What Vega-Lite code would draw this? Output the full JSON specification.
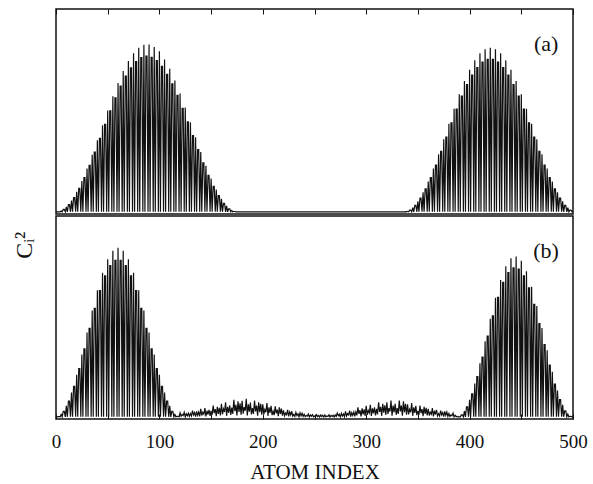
{
"$schema": "https://vega.github.io/schema/vega-lite/v6.json",
"background": "white",
"padding": {"left": 12, "top": 7, "right": 10, "bottom": 2},
"title": {"text": "Cᵢ²", "orient": "left", "anchor": "middle", "font": "Liberation Serif", "fontSize": 24, "fontWeight": "normal", "offset": 14, "color": "#111"},
"config": {"view": {"stroke": "#111", "strokeWidth": 1.5}, "font": "Liberation Serif", "concat": {"spacing": 0}},
"datasets": {
"a": [
{"i":0,"v":0.3},{"i":1,"v":0.3},{"i":2,"v":0.3},{"i":3,"v":0.3},{"i":4,"v":0.3},
{"i":5,"v":0.8},{"i":6,"v":0.3},{"i":7,"v":1.7},{"i":8,"v":1.7},{"i":9,"v":0.3},
{"i":10,"v":3.2},{"i":11,"v":0.3},{"i":12,"v":4.6},{"i":13,"v":4.6},{"i":14,"v":0.3},
{"i":15,"v":7.0},{"i":16,"v":0.3},{"i":17,"v":8.7},{"i":18,"v":8.7},{"i":19,"v":0.3},
{"i":20,"v":12.2},{"i":21,"v":0.3},{"i":22,"v":14.2},{"i":23,"v":14.2},{"i":24,"v":0.3},
{"i":25,"v":18.6},{"i":26,"v":0.3},{"i":27,"v":20.6},{"i":28,"v":20.6},{"i":29,"v":0.3},
{"i":30,"v":26.1},{"i":31,"v":0.3},{"i":32,"v":28.0},{"i":33,"v":28.0},{"i":34,"v":0.3},
{"i":35,"v":34.2},{"i":36,"v":0.3},{"i":37,"v":35.8},{"i":38,"v":35.8},{"i":39,"v":0.3},
{"i":40,"v":42.9},{"i":41,"v":0.3},{"i":42,"v":44.0},{"i":43,"v":44.0},{"i":44,"v":0.3},
{"i":45,"v":51.8},{"i":46,"v":0.3},{"i":47,"v":52.3},{"i":48,"v":52.3},{"i":49,"v":0.3},
{"i":50,"v":60.6},{"i":51,"v":0.3},{"i":52,"v":60.4},{"i":53,"v":60.4},{"i":54,"v":0.3},
{"i":55,"v":69.1},{"i":56,"v":0.3},{"i":57,"v":68.1},{"i":58,"v":68.1},{"i":59,"v":0.3},
{"i":60,"v":77.0},{"i":61,"v":0.3},{"i":62,"v":75.1},{"i":63,"v":75.1},{"i":64,"v":0.3},
{"i":65,"v":84.1},{"i":66,"v":0.3},{"i":67,"v":81.1},{"i":68,"v":81.1},{"i":69,"v":0.3},
{"i":70,"v":90.0},{"i":71,"v":0.3},{"i":72,"v":86.0},{"i":73,"v":86.0},{"i":74,"v":0.3},
{"i":75,"v":94.7},{"i":76,"v":0.3},{"i":77,"v":89.7},{"i":78,"v":89.7},{"i":79,"v":0.3},
{"i":80,"v":98.0},{"i":81,"v":0.3},{"i":82,"v":92.1},{"i":83,"v":92.1},{"i":84,"v":0.3},
{"i":85,"v":99.7},{"i":86,"v":0.3},{"i":87,"v":93.0},{"i":88,"v":93.0},{"i":89,"v":0.3},
{"i":90,"v":99.9},{"i":91,"v":0.3},{"i":92,"v":92.3},{"i":93,"v":92.3},{"i":94,"v":0.3},
{"i":95,"v":98.4},{"i":96,"v":0.3},{"i":97,"v":90.3},{"i":98,"v":90.3},{"i":99,"v":0.3},
{"i":100,"v":95.8},{"i":101,"v":0.3},{"i":102,"v":86.9},{"i":103,"v":86.9},{"i":104,"v":0.3},
{"i":105,"v":91.0},{"i":106,"v":0.3},{"i":107,"v":82.1},{"i":108,"v":82.1},{"i":109,"v":0.3},
{"i":110,"v":85.4},{"i":111,"v":0.3},{"i":112,"v":76.4},{"i":113,"v":76.4},{"i":114,"v":0.3},
{"i":115,"v":78.5},{"i":116,"v":0.3},{"i":117,"v":69.6},{"i":118,"v":69.6},{"i":119,"v":0.3},
{"i":120,"v":70.7},{"i":121,"v":0.3},{"i":122,"v":61.9},{"i":123,"v":61.9},{"i":124,"v":0.3},
{"i":125,"v":62.4},{"i":126,"v":0.3},{"i":127,"v":53.9},{"i":128,"v":53.9},{"i":129,"v":0.3},
{"i":130,"v":53.6},{"i":131,"v":0.3},{"i":132,"v":45.7},{"i":133,"v":45.7},{"i":134,"v":0.3},
{"i":135,"v":44.6},{"i":136,"v":0.3},{"i":137,"v":37.4},{"i":138,"v":37.4},{"i":139,"v":0.3},
{"i":140,"v":35.9},{"i":141,"v":0.3},{"i":142,"v":29.5},{"i":143,"v":29.5},{"i":144,"v":0.3},
{"i":145,"v":27.7},{"i":146,"v":0.3},{"i":147,"v":22.0},{"i":148,"v":22.0},{"i":149,"v":0.3},
{"i":150,"v":20.1},{"i":151,"v":0.3},{"i":152,"v":15.5},{"i":153,"v":15.5},{"i":154,"v":0.3},
{"i":155,"v":13.5},{"i":156,"v":0.3},{"i":157,"v":9.9},{"i":158,"v":9.9},{"i":159,"v":0.3},
{"i":160,"v":8.1},{"i":161,"v":0.3},{"i":162,"v":5.4},{"i":163,"v":5.4},{"i":164,"v":0.3},
{"i":165,"v":3.9},{"i":166,"v":0.3},{"i":167,"v":2.1},{"i":168,"v":2.1},{"i":169,"v":0.3},
{"i":170,"v":1.1},{"i":171,"v":0.3},{"i":172,"v":0.5},{"i":173,"v":0.5},{"i":174,"v":0.3},
{"i":175,"v":0.3},{"i":200,"v":0.3},{"i":250,"v":0.3},{"i":300,"v":0.3},{"i":335,"v":0.3},{"i":336,"v":0.3},{"i":337,"v":0.3},{"i":338,"v":0.4},{"i":339,"v":0.3},
{"i":340,"v":0.6},{"i":341,"v":0.3},{"i":342,"v":1.3},{"i":343,"v":1.3},{"i":344,"v":0.3},
{"i":345,"v":2.8},{"i":346,"v":0.3},{"i":347,"v":4.1},{"i":348,"v":4.1},{"i":349,"v":0.3},
{"i":350,"v":6.6},{"i":351,"v":0.3},{"i":352,"v":8.4},{"i":353,"v":8.4},{"i":354,"v":0.3},
{"i":355,"v":11.9},{"i":356,"v":0.3},{"i":357,"v":14.0},{"i":358,"v":14.0},{"i":359,"v":0.3},
{"i":360,"v":18.4},{"i":361,"v":0.3},{"i":362,"v":20.6},{"i":363,"v":20.6},{"i":364,"v":0.3},
{"i":365,"v":26.1},{"i":366,"v":0.3},{"i":367,"v":28.1},{"i":368,"v":28.1},{"i":369,"v":0.3},
{"i":370,"v":34.6},{"i":371,"v":0.3},{"i":372,"v":36.3},{"i":373,"v":36.3},{"i":374,"v":0.3},
{"i":375,"v":43.5},{"i":376,"v":0.3},{"i":377,"v":44.7},{"i":378,"v":44.7},{"i":379,"v":0.3},
{"i":380,"v":52.7},{"i":381,"v":0.3},{"i":382,"v":53.2},{"i":383,"v":53.2},{"i":384,"v":0.3},
{"i":385,"v":61.7},{"i":386,"v":0.3},{"i":387,"v":61.4},{"i":388,"v":61.4},{"i":389,"v":0.3},
{"i":390,"v":70.3},{"i":391,"v":0.3},{"i":392,"v":69.1},{"i":393,"v":69.1},{"i":394,"v":0.3},
{"i":395,"v":78.1},{"i":396,"v":0.3},{"i":397,"v":76.0},{"i":398,"v":76.0},{"i":399,"v":0.3},
{"i":400,"v":84.9},{"i":401,"v":0.3},{"i":402,"v":81.7},{"i":403,"v":81.7},{"i":404,"v":0.3},
{"i":405,"v":90.5},{"i":406,"v":0.3},{"i":407,"v":86.2},{"i":408,"v":86.2},{"i":409,"v":0.3},
{"i":410,"v":94.6},{"i":411,"v":0.3},{"i":412,"v":89.4},{"i":413,"v":89.4},{"i":414,"v":0.3},
{"i":415,"v":97.1},{"i":416,"v":0.3},{"i":417,"v":91.0},{"i":418,"v":91.0},{"i":419,"v":0.3},
{"i":420,"v":98.0},{"i":421,"v":0.3},{"i":422,"v":91.0},{"i":423,"v":91.0},{"i":424,"v":0.3},
{"i":425,"v":97.1},{"i":426,"v":0.3},{"i":427,"v":89.4},{"i":428,"v":89.4},{"i":429,"v":0.3},
{"i":430,"v":94.6},{"i":431,"v":0.3},{"i":432,"v":86.2},{"i":433,"v":86.2},{"i":434,"v":0.3},
{"i":435,"v":90.5},{"i":436,"v":0.3},{"i":437,"v":81.7},{"i":438,"v":81.7},{"i":439,"v":0.3},
{"i":440,"v":84.9},{"i":441,"v":0.3},{"i":442,"v":76.0},{"i":443,"v":76.0},{"i":444,"v":0.3},
{"i":445,"v":78.1},{"i":446,"v":0.3},{"i":447,"v":69.1},{"i":448,"v":69.1},{"i":449,"v":0.3},
{"i":450,"v":70.3},{"i":451,"v":0.3},{"i":452,"v":61.4},{"i":453,"v":61.4},{"i":454,"v":0.3},
{"i":455,"v":61.7},{"i":456,"v":0.3},{"i":457,"v":53.2},{"i":458,"v":53.2},{"i":459,"v":0.3},
{"i":460,"v":52.7},{"i":461,"v":0.3},{"i":462,"v":44.7},{"i":463,"v":44.7},{"i":464,"v":0.3},
{"i":465,"v":43.5},{"i":466,"v":0.3},{"i":467,"v":36.3},{"i":468,"v":36.3},{"i":469,"v":0.3},
{"i":470,"v":34.6},{"i":471,"v":0.3},{"i":472,"v":28.1},{"i":473,"v":28.1},{"i":474,"v":0.3},
{"i":475,"v":26.1},{"i":476,"v":0.3},{"i":477,"v":20.6},{"i":478,"v":20.6},{"i":479,"v":0.3},
{"i":480,"v":18.4},{"i":481,"v":0.3},{"i":482,"v":14.0},{"i":483,"v":14.0},{"i":484,"v":0.3},
{"i":485,"v":11.9},{"i":486,"v":0.3},{"i":487,"v":8.4},{"i":488,"v":8.4},{"i":489,"v":0.3},
{"i":490,"v":6.6},{"i":491,"v":0.3},{"i":492,"v":4.1},{"i":493,"v":4.1},{"i":494,"v":0.3},
{"i":495,"v":2.8},{"i":496,"v":0.3},{"i":497,"v":1.3},{"i":498,"v":1.3},{"i":499,"v":0.3},
{"i":500,"v":0.6}
],
"b": [
{"i":0,"v":0.3},{"i":1,"v":0.3},{"i":2,"v":0.4},{"i":3,"v":0.4},{"i":4,"v":0.3},
{"i":5,"v":1.7},{"i":6,"v":0.3},{"i":7,"v":3.6},{"i":8,"v":3.6},{"i":9,"v":0.3},
{"i":10,"v":6.8},{"i":11,"v":0.3},{"i":12,"v":9.7},{"i":13,"v":9.7},{"i":14,"v":0.3},
{"i":15,"v":14.8},{"i":16,"v":0.3},{"i":17,"v":18.4},{"i":18,"v":18.4},{"i":19,"v":0.3},
{"i":20,"v":25.3},{"i":21,"v":0.3},{"i":22,"v":29.0},{"i":23,"v":29.0},{"i":24,"v":0.3},
{"i":25,"v":37.4},{"i":26,"v":0.3},{"i":27,"v":40.8},{"i":28,"v":40.8},{"i":29,"v":0.3},
{"i":30,"v":50.5},{"i":31,"v":0.3},{"i":32,"v":53.1},{"i":33,"v":53.1},{"i":34,"v":0.3},
{"i":35,"v":63.6},{"i":36,"v":0.3},{"i":37,"v":64.9},{"i":38,"v":64.9},{"i":39,"v":0.3},
{"i":40,"v":75.8},{"i":41,"v":0.3},{"i":42,"v":75.5},{"i":43,"v":75.5},{"i":44,"v":0.3},
{"i":45,"v":86.2},{"i":46,"v":0.3},{"i":47,"v":84.3},{"i":48,"v":84.3},{"i":49,"v":0.3},
{"i":50,"v":94.2},{"i":51,"v":0.3},{"i":52,"v":90.4},{"i":53,"v":90.4},{"i":54,"v":0.3},
{"i":55,"v":99.3},{"i":56,"v":0.3},{"i":57,"v":93.6},{"i":58,"v":93.6},{"i":59,"v":0.3},
{"i":60,"v":101.0},{"i":61,"v":0.3},{"i":62,"v":93.6},{"i":63,"v":93.6},{"i":64,"v":0.3},
{"i":65,"v":99.3},{"i":66,"v":0.3},{"i":67,"v":90.4},{"i":68,"v":90.4},{"i":69,"v":0.3},
{"i":70,"v":94.2},{"i":71,"v":0.3},{"i":72,"v":84.3},{"i":73,"v":84.3},{"i":74,"v":0.3},
{"i":75,"v":86.2},{"i":76,"v":0.3},{"i":77,"v":75.5},{"i":78,"v":75.5},{"i":79,"v":0.3},
{"i":80,"v":75.8},{"i":81,"v":0.3},{"i":82,"v":64.9},{"i":83,"v":64.9},{"i":84,"v":0.3},
{"i":85,"v":63.6},{"i":86,"v":0.3},{"i":87,"v":53.1},{"i":88,"v":53.1},{"i":89,"v":0.3},
{"i":90,"v":50.5},{"i":91,"v":0.3},{"i":92,"v":40.8},{"i":93,"v":40.8},{"i":94,"v":0.3},
{"i":95,"v":37.4},{"i":96,"v":0.3},{"i":97,"v":29.0},{"i":98,"v":29.0},{"i":99,"v":0.3},
{"i":100,"v":25.3},{"i":101,"v":0.3},{"i":102,"v":18.4},{"i":103,"v":18.4},{"i":104,"v":0.3},
{"i":105,"v":14.8},{"i":106,"v":0.3},{"i":107,"v":9.7},{"i":108,"v":9.7},{"i":109,"v":0.3},
{"i":110,"v":6.8},{"i":111,"v":0.3},{"i":112,"v":3.6},{"i":113,"v":3.6},{"i":114,"v":0.3},
{"i":115,"v":1.7},{"i":116,"v":0.3},{"i":117,"v":0.6},{"i":118,"v":0.6},{"i":119,"v":0.3},
{"i":120,"v":2.7},{"i":121,"v":0.6},{"i":122,"v":1.7},{"i":123,"v":1.0},{"i":124,"v":3.0},{"i":125,"v":0.3},{"i":126,"v":2.1},{"i":127,"v":0.9},{"i":128,"v":2.4},{"i":129,"v":0.5},
{"i":130,"v":2.2},{"i":131,"v":0.8},{"i":132,"v":4.0},{"i":133,"v":1.4},{"i":134,"v":2.8},{"i":135,"v":0.4},{"i":136,"v":3.6},{"i":137,"v":1.2},{"i":138,"v":3.2},{"i":139,"v":0.6},
{"i":140,"v":5.0},{"i":141,"v":1.1},{"i":142,"v":3.0},{"i":143,"v":1.9},{"i":144,"v":5.5},{"i":145,"v":0.6},{"i":146,"v":3.9},{"i":147,"v":1.7},{"i":148,"v":4.4},{"i":149,"v":0.8},
{"i":150,"v":3.9},{"i":151,"v":1.4},{"i":152,"v":7.0},{"i":153,"v":2.5},{"i":154,"v":4.9},{"i":155,"v":0.7},{"i":156,"v":6.3},{"i":157,"v":2.1},{"i":158,"v":5.6},{"i":159,"v":1.1},
{"i":160,"v":8.1},{"i":161,"v":1.8},{"i":162,"v":5.0},{"i":163,"v":3.2},{"i":164,"v":9.0},{"i":165,"v":0.9},{"i":166,"v":6.3},{"i":167,"v":2.7},{"i":168,"v":7.2},{"i":169,"v":1.4},
{"i":170,"v":5.8},{"i":171,"v":2.1},{"i":172,"v":10.5},{"i":173,"v":3.7},{"i":174,"v":7.4},{"i":175,"v":1.1},{"i":176,"v":9.5},{"i":177,"v":3.2},{"i":178,"v":8.4},{"i":179,"v":1.6},
{"i":180,"v":9.9},{"i":181,"v":2.2},{"i":182,"v":6.1},{"i":183,"v":3.9},{"i":184,"v":11.0},{"i":185,"v":1.1},{"i":186,"v":7.7},{"i":187,"v":3.3},{"i":188,"v":8.8},{"i":189,"v":1.7},
{"i":190,"v":5.5},{"i":191,"v":2.0},{"i":192,"v":10.0},{"i":193,"v":3.5},{"i":194,"v":7.0},{"i":195,"v":1.0},{"i":196,"v":9.0},{"i":197,"v":3.0},{"i":198,"v":8.0},{"i":199,"v":1.5},
{"i":200,"v":7.7},{"i":201,"v":1.7},{"i":202,"v":4.7},{"i":203,"v":3.0},{"i":204,"v":8.5},{"i":205,"v":0.9},{"i":206,"v":6.0},{"i":207,"v":2.6},{"i":208,"v":6.8},{"i":209,"v":1.3},
{"i":210,"v":3.6},{"i":211,"v":1.3},{"i":212,"v":6.5},{"i":213,"v":2.3},{"i":214,"v":4.6},{"i":215,"v":0.7},{"i":216,"v":5.9},{"i":217,"v":2.0},{"i":218,"v":5.2},{"i":219,"v":1.0},
{"i":220,"v":4.1},{"i":221,"v":0.9},{"i":222,"v":2.5},{"i":223,"v":1.6},{"i":224,"v":4.5},{"i":225,"v":0.5},{"i":226,"v":3.2},{"i":227,"v":1.4},{"i":228,"v":3.6},{"i":229,"v":0.7},
{"i":230,"v":1.7},{"i":231,"v":0.6},{"i":232,"v":3.0},{"i":233,"v":1.1},{"i":234,"v":2.1},{"i":235,"v":0.3},{"i":236,"v":2.7},{"i":237,"v":0.9},{"i":238,"v":2.4},{"i":239,"v":0.5},
{"i":240,"v":1.8},{"i":241,"v":0.4},{"i":242,"v":1.1},{"i":243,"v":0.7},{"i":244,"v":2.0},{"i":245,"v":0.2},{"i":246,"v":1.4},{"i":247,"v":0.6},{"i":248,"v":1.6},{"i":249,"v":0.3},
{"i":250,"v":0.8},{"i":251,"v":0.3},{"i":252,"v":1.5},{"i":253,"v":0.5},{"i":254,"v":1.1},{"i":255,"v":0.2},{"i":256,"v":1.4},{"i":257,"v":0.5},{"i":258,"v":1.2},{"i":259,"v":0.2},
{"i":260,"v":1.4},{"i":261,"v":0.3},{"i":262,"v":0.8},{"i":263,"v":0.5},{"i":264,"v":1.5},{"i":265,"v":0.2},{"i":266,"v":1.1},{"i":267,"v":0.5},{"i":268,"v":1.2},{"i":269,"v":0.2},
{"i":270,"v":1.4},{"i":271,"v":0.5},{"i":272,"v":2.5},{"i":273,"v":0.9},{"i":274,"v":1.8},{"i":275,"v":0.3},{"i":276,"v":2.4},{"i":277,"v":0.8},{"i":278,"v":2.0},{"i":279,"v":0.4},
{"i":280,"v":3.6},{"i":281,"v":0.8},{"i":282,"v":2.2},{"i":283,"v":1.4},{"i":284,"v":4.0},{"i":285,"v":0.4},{"i":286,"v":2.8},{"i":287,"v":1.2},{"i":288,"v":3.2},{"i":289,"v":0.6},
{"i":290,"v":3.3},{"i":291,"v":1.2},{"i":292,"v":6.0},{"i":293,"v":2.1},{"i":294,"v":4.2},{"i":295,"v":0.6},{"i":296,"v":5.4},{"i":297,"v":1.8},{"i":298,"v":4.8},{"i":299,"v":0.9},
{"i":300,"v":6.8},{"i":301,"v":1.5},{"i":302,"v":4.1},{"i":303,"v":2.6},{"i":304,"v":7.5},{"i":305,"v":0.8},{"i":306,"v":5.3},{"i":307,"v":2.3},{"i":308,"v":6.0},{"i":309,"v":1.1},
{"i":310,"v":5.0},{"i":311,"v":1.8},{"i":312,"v":9.0},{"i":313,"v":3.2},{"i":314,"v":6.3},{"i":315,"v":0.9},{"i":316,"v":8.1},{"i":317,"v":2.7},{"i":318,"v":7.2},{"i":319,"v":1.4},
{"i":320,"v":9.0},{"i":321,"v":2.0},{"i":322,"v":5.5},{"i":323,"v":3.5},{"i":324,"v":10.0},{"i":325,"v":1.0},{"i":326,"v":7.0},{"i":327,"v":3.0},{"i":328,"v":8.0},{"i":329,"v":1.5},
{"i":330,"v":5.5},{"i":331,"v":2.0},{"i":332,"v":10.0},{"i":333,"v":3.5},{"i":334,"v":7.0},{"i":335,"v":1.0},{"i":336,"v":9.5},{"i":337,"v":3.0},{"i":338,"v":8.0},{"i":339,"v":1.5},
{"i":340,"v":7.7},{"i":341,"v":1.7},{"i":342,"v":4.7},{"i":343,"v":3.0},{"i":344,"v":8.5},{"i":345,"v":0.9},{"i":346,"v":6.0},{"i":347,"v":2.6},{"i":348,"v":6.8},{"i":349,"v":1.3},
{"i":350,"v":3.9},{"i":351,"v":1.4},{"i":352,"v":7.0},{"i":353,"v":2.5},{"i":354,"v":4.9},{"i":355,"v":0.7},{"i":356,"v":6.3},{"i":357,"v":2.1},{"i":358,"v":5.6},{"i":359,"v":1.1},
{"i":360,"v":5.0},{"i":361,"v":1.1},{"i":362,"v":3.0},{"i":363,"v":1.9},{"i":364,"v":5.5},{"i":365,"v":0.6},{"i":366,"v":3.9},{"i":367,"v":1.7},{"i":368,"v":4.4},{"i":369,"v":0.8},
{"i":370,"v":2.2},{"i":371,"v":0.8},{"i":372,"v":4.0},{"i":373,"v":1.4},{"i":374,"v":2.8},{"i":375,"v":0.4},{"i":376,"v":3.6},{"i":377,"v":1.2},{"i":378,"v":3.2},{"i":379,"v":0.6},
{"i":380,"v":2.3},{"i":381,"v":0.5},{"i":382,"v":1.4},{"i":383,"v":0.9},{"i":384,"v":2.5},{"i":385,"v":0.3},{"i":386,"v":1.2},{"i":387,"v":0.4},{"i":388,"v":0.6},{"i":389,"v":0.3},
{"i":390,"v":0.3},{"i":391,"v":0.3},{"i":392,"v":1.4},{"i":393,"v":1.4},{"i":394,"v":0.3},
{"i":395,"v":3.7},{"i":396,"v":0.3},{"i":397,"v":6.2},{"i":398,"v":6.2},{"i":399,"v":0.3},
{"i":400,"v":10.5},{"i":401,"v":0.3},{"i":402,"v":14.0},{"i":403,"v":14.0},{"i":404,"v":0.3},
{"i":405,"v":20.2},{"i":406,"v":0.3},{"i":407,"v":24.2},{"i":408,"v":24.2},{"i":409,"v":0.3},
{"i":410,"v":32.2},{"i":411,"v":0.3},{"i":412,"v":35.9},{"i":413,"v":35.9},{"i":414,"v":0.3},
{"i":415,"v":45.3},{"i":416,"v":0.3},{"i":417,"v":48.4},{"i":418,"v":48.4},{"i":419,"v":0.3},
{"i":420,"v":58.7},{"i":421,"v":0.3},{"i":422,"v":60.5},{"i":423,"v":60.5},{"i":424,"v":0.3},
{"i":425,"v":71.2},{"i":426,"v":0.3},{"i":427,"v":71.5},{"i":428,"v":71.5},{"i":429,"v":0.3},
{"i":430,"v":81.9},{"i":431,"v":0.3},{"i":432,"v":80.4},{"i":433,"v":80.4},{"i":434,"v":0.3},
{"i":435,"v":90.0},{"i":436,"v":0.3},{"i":437,"v":86.3},{"i":438,"v":86.3},{"i":439,"v":0.3},
{"i":440,"v":94.8},{"i":441,"v":0.3},{"i":442,"v":89.1},{"i":443,"v":89.1},{"i":444,"v":0.3},
{"i":445,"v":95.9},{"i":446,"v":0.3},{"i":447,"v":88.4},{"i":448,"v":88.4},{"i":449,"v":0.3},
{"i":450,"v":93.3},{"i":451,"v":0.3},{"i":452,"v":84.3},{"i":453,"v":84.3},{"i":454,"v":0.3},
{"i":455,"v":87.1},{"i":456,"v":0.3},{"i":457,"v":77.1},{"i":458,"v":77.1},{"i":459,"v":0.3},
{"i":460,"v":77.9},{"i":461,"v":0.3},{"i":462,"v":67.3},{"i":463,"v":67.3},{"i":464,"v":0.3},
{"i":465,"v":66.3},{"i":466,"v":0.3},{"i":467,"v":55.8},{"i":468,"v":55.8},{"i":469,"v":0.3},
{"i":470,"v":53.3},{"i":471,"v":0.3},{"i":472,"v":43.4},{"i":473,"v":43.4},{"i":474,"v":0.3},
{"i":475,"v":40.0},{"i":476,"v":0.3},{"i":477,"v":31.2},{"i":478,"v":31.2},{"i":479,"v":0.3},
{"i":480,"v":27.2},{"i":481,"v":0.3},{"i":482,"v":19.8},{"i":483,"v":19.8},{"i":484,"v":0.3},
{"i":485,"v":16.0},{"i":486,"v":0.3},{"i":487,"v":10.5},{"i":488,"v":10.5},{"i":489,"v":0.3},
{"i":490,"v":7.4},{"i":491,"v":0.3},{"i":492,"v":3.9},{"i":493,"v":3.9},{"i":494,"v":0.3},
{"i":495,"v":1.9},{"i":496,"v":0.3},{"i":497,"v":0.6},{"i":498,"v":0.6},{"i":499,"v":0.3},
{"i":500,"v":0.3}
]
},
"vconcat": [
{
"width": 517, "height": 205,
"layer": [
{"data": {"name": "a"},
 "mark": {"type": "line", "color": "#111", "strokeWidth": 1.2, "clip": true},
 "encoding": {
  "x": {"field": "i", "type": "quantitative", "scale": {"domain": [0, 500], "nice": false},
        "axis": {"orient": "top", "values": [0,50,100,150,200,250,300,350,400,450,500], "labels": false, "domain": false, "grid": false, "ticks": true, "tickSize": -5, "tickColor": "#111", "tickWidth": 1, "title": null}},
  "y": {"field": "v", "type": "quantitative", "scale": {"domain": [-1, 121], "nice": false, "zero": false}, "axis": null}
 }},
{"data": {"values": [{"label": "(a)"}]},
 "mark": {"type": "text", "font": "Liberation Serif", "fontSize": 22, "color": "#111", "align": "center", "baseline": "middle"},
 "encoding": {"x": {"datum": 474}, "y": {"datum": 100}, "text": {"field": "label"}}}
]
},
{
"width": 517, "height": 203,
"layer": [
{"data": {"name": "b"},
 "mark": {"type": "line", "color": "#111", "strokeWidth": 1.2, "clip": true},
 "encoding": {
  "x": {"field": "i", "type": "quantitative", "scale": {"domain": [0, 500], "nice": false},
        "axis": {"orient": "bottom", "values": [0,50,100,150,200,250,300,350,400,450,500], "labelExpr": "datum.value % 100 === 0 ? datum.label : ''", "domain": false, "grid": false, "ticks": true, "tickSize": -5, "tickColor": "#111", "tickWidth": 1, "labelFont": "Liberation Serif", "labelFontSize": 19, "labelColor": "#111", "labelPadding": 18, "labelFlush": false, "labelOverlap": false, "title": "ATOM INDEX", "titleFont": "Liberation Serif", "titleFontSize": 21, "titleFontWeight": "normal", "titleColor": "#111", "titlePadding": 10}},
  "y": {"field": "v", "type": "quantitative", "scale": {"domain": [-1, 120], "nice": false, "zero": false}, "axis": null}
 }},
{"data": {"values": [{"label": "(b)"}]},
 "mark": {"type": "text", "font": "Liberation Serif", "fontSize": 22, "color": "#111", "align": "center", "baseline": "middle"},
 "encoding": {"x": {"datum": 474}, "y": {"datum": 99}, "text": {"field": "label"}}}
]
}
]
}
